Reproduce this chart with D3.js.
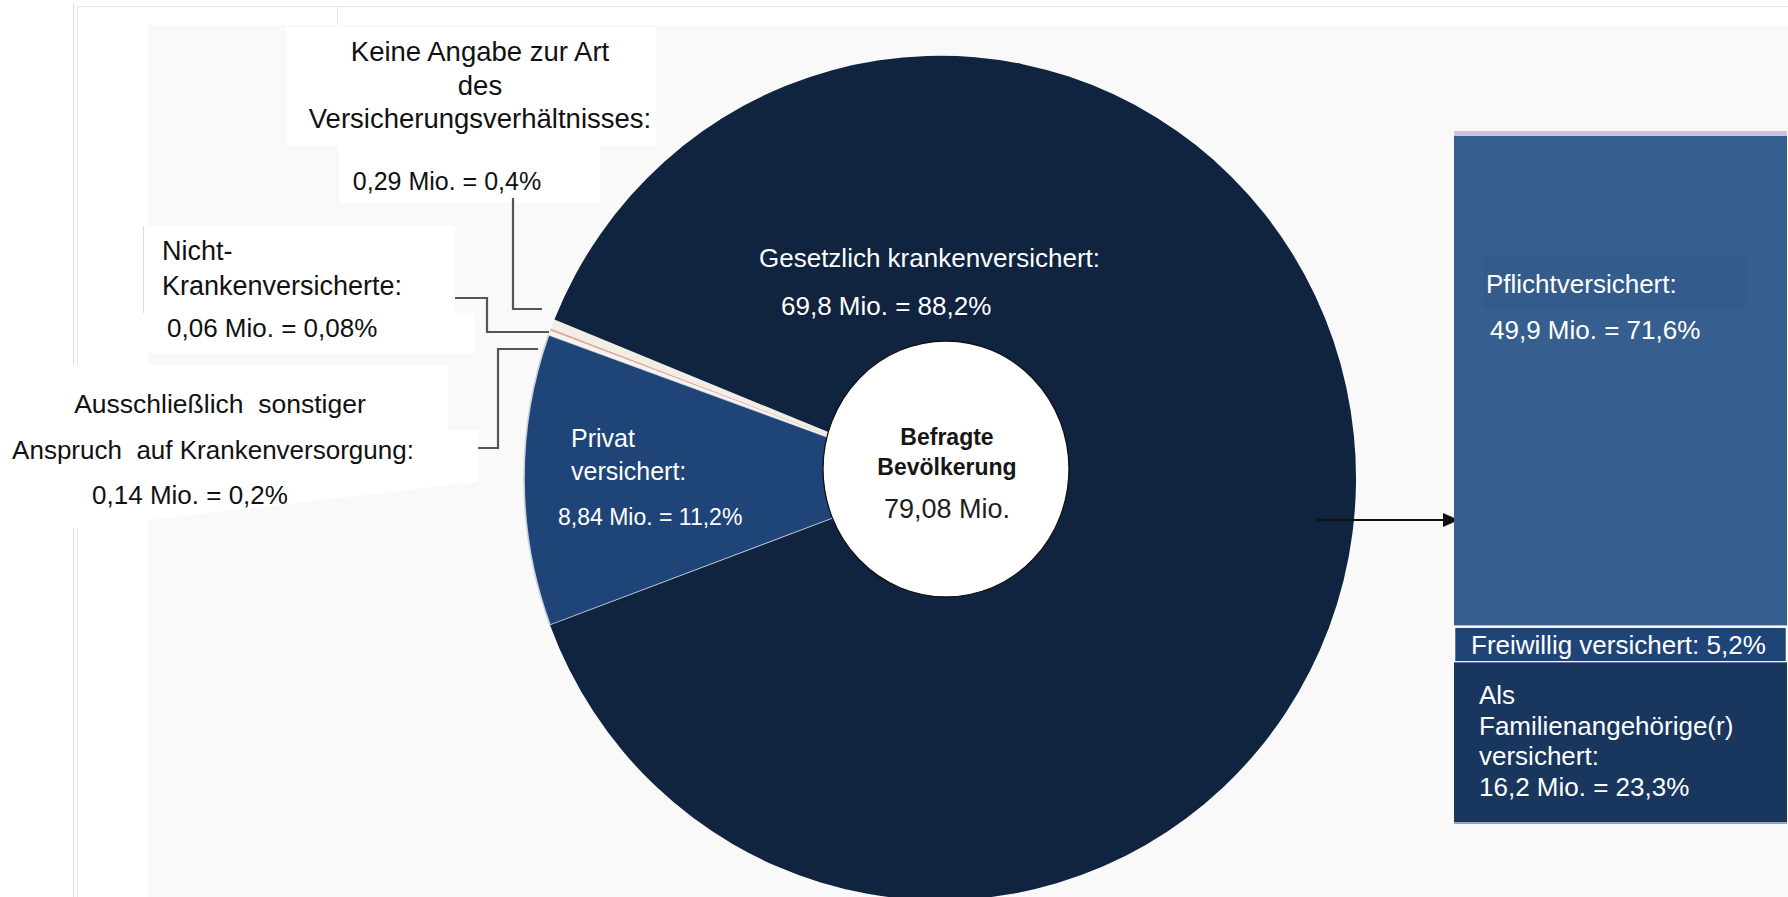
<!DOCTYPE html>
<html>
<head>
<meta charset="utf-8">
<script src="https://cdn.jsdelivr.net/npm/d3@7"></script>
<style>
  html, body { margin: 0; padding: 0; background: #ffffff; }
  svg { display: block; }
  text { font-family: "Liberation Sans", Arial, sans-serif; white-space: pre; }
</style>
</head>
<body>
<svg id="chart" width="1788" height="897"></svg>
<script>
// ---------------- DATA ----------------
const pieCategories = [
  "Privat versichert",
  "Ausschließlich sonstiger Anspruch auf Krankenversorgung",
  "Nicht-Krankenversicherte",
  "Keine Angabe zur Art des Versicherungsverhältnisses",
  "Gesetzlich krankenversichert"
];
const pieValues   = [8.84, 0.14, 0.06, 0.29, 69.8];      // Mio.
const piePercents = [11.2, 0.2, 0.08, 0.4, 88.2];        // %
const totalValue  = 79.08;                               // Mio.

const barCategories = ["Pflichtversichert", "Freiwillig versichert", "Als Familienangehörige(r) versichert"];
const barPercents   = [71.6, 5.2, 23.3];                 // % of Gesetzlich
const barValues     = [49.9, null, 16.2];                // Mio.

// ---------------- HELPERS ----------------
const de = v => String(v).replace(".", ",");
const svg = d3.select("#chart");

// ---------------- BACKGROUND (screenshot frame) ----------------
const bg = svg.append("g");
bg.append("rect").attr("x", 148).attr("y", 25).attr("width", 1640).attr("height", 872).attr("fill", "#f9f9f9");
bg.append("line").attr("x1", 77).attr("x2", 1788).attr("y1", 6.5).attr("y2", 6.5).attr("stroke", "#e6e6e6");
bg.append("line").attr("x1", 73.5).attr("x2", 73.5).attr("y1", 4).attr("y2", 897).attr("stroke", "#d9d9d9");
bg.append("line").attr("x1", 77.5).attr("x2", 77.5).attr("y1", 6).attr("y2", 365).attr("stroke", "#e6e6e6");
bg.append("line").attr("x1", 77.5).attr("x2", 77.5).attr("y1", 528).attr("y2", 897).attr("stroke", "#e6e6e6");
bg.append("line").attr("x1", 337.5).attr("x2", 337.5).attr("y1", 6).attr("y2", 25).attr("stroke", "#e6e6e6");
bg.append("rect").attr("x", 78).attr("y", 528).attr("width", 70).attr("height", 369).attr("fill", "#ffffff");
// white label boxes
const boxes = [
  [286, 27, 370, 118], [339, 145, 261, 58],
  [143, 226, 312, 87], [147, 313, 328, 40]
];
bg.selectAll("rect.box").data(boxes).join("rect").attr("class", "box")
  .attr("x", d => d[0]).attr("y", d => d[1]).attr("width", d => d[2]).attr("height", d => d[3])
  .attr("fill", "#ffffff");
bg.append("line").attr("x1", 143.5).attr("x2", 143.5).attr("y1", 226).attr("y2", 313).attr("stroke", "#dddddd");
bg.append("polygon").attr("points", "0,365 448,365 448,430 478,430 478,482 78,528 0,528").attr("fill", "#ffffff");

// ---------------- PIE ----------------
const cx = 940, cy = 478, rOuter = 416, yStretch = 1.015;
const pieColors = ["#1f4578", "#f6f4ee", "#e6a49e", "#f1eee6", "#10233f"];

const pie = d3.pie().sort(null).value(d => d)
  .startAngle(249.6 * Math.PI / 180)
  .endAngle((249.6 + 360) * Math.PI / 180);
const arcs = pie(pieValues);
const arc = d3.arc().innerRadius(0).outerRadius(rOuter);

const pieG = svg.append("g").attr("transform", `translate(${cx},${cy}) scale(1,${yStretch})`);
pieG.selectAll("path").data(arcs).join("path")
  .attr("d", arc)
  .attr("fill", (d, i) => pieColors[i])
  .attr("stroke", (d, i) => i === 0 ? "#c9d2de" : "none")
  .attr("stroke-width", 1.6);

// inner white disc
svg.append("ellipse").attr("cx", 946).attr("cy", 469).attr("rx", 123).attr("ry", 128)
  .attr("fill", "#ffffff").attr("stroke", "#111111").attr("stroke-width", 1.3);

svg.append("text").attr("x", 947).attr("y", 445).attr("text-anchor", "middle")
  .attr("font-size", 23).attr("font-weight", "bold").attr("fill", "#161616").text("Befragte");
svg.append("text").attr("x", 947).attr("y", 475).attr("text-anchor", "middle")
  .attr("font-size", 23).attr("font-weight", "bold").attr("fill", "#161616").text("Bevölkerung");
svg.append("text").attr("x", 947).attr("y", 518).attr("text-anchor", "middle")
  .attr("font-size", 27).attr("fill", "#1e1e1e").text(de(totalValue) + " Mio.");

// ---------------- PIE LABELS ----------------
function lines(x, y0, dy, arr, opts) {
  arr.forEach((t, i) => {
    svg.append("text").attr("x", x).attr("y", y0 + i * dy)
      .attr("text-anchor", opts.anchor || "start")
      .attr("font-size", opts.size || 26)
      .attr("fill", opts.fill || "#111111")
      .text(t);
  });
}
const mioPct = i => `${de(pieValues[i])} Mio. = ${de(piePercents[i])}%`;

// Gesetzlich
lines(759, 267, 0, ["Gesetzlich krankenversichert:"], { fill: "#ffffff", size: 26 });
lines(781, 315, 0, [mioPct(4)], { fill: "#ffffff", size: 26 });
// Privat
lines(571, 447, 33, ["Privat", "versichert:"], { fill: "#ffffff", size: 25 });
lines(558, 525, 0, [mioPct(0)], { fill: "#ffffff", size: 23 });
// Keine Angabe
lines(480, 61, 33.5, ["Keine Angabe zur Art", "des", "Versicherungsverhältnisses:"], { anchor: "middle", size: 27.5 });
lines(447, 190, 0, [mioPct(3)], { anchor: "middle", size: 25 });
// Nicht-Krankenversicherte
lines(162, 260, 35, ["Nicht-", "Krankenversicherte:"], { size: 27 });
lines(167, 337, 0, [mioPct(2)], { size: 26 });
// Ausschließlich sonstiger
lines(220, 413, 46, ["Ausschließlich  sonstiger"], { anchor: "middle", size: 26.5 });
lines(213, 459, 0, ["Anspruch  auf Krankenversorgung:"], { anchor: "middle", size: 26 });
lines(190, 504, 0, [mioPct(1)], { anchor: "middle", size: 26 });

// leader lines
const leaders = [
  [[513, 198], [513, 309], [542, 309]],
  [[455, 298], [487, 298], [487, 332], [549, 332]],
  [[538, 349], [498, 349], [498, 448], [478, 448]]
];
svg.selectAll("path.leader").data(leaders).join("path").attr("class", "leader")
  .attr("d", d3.line())
  .attr("fill", "none").attr("stroke", "#555555").attr("stroke-width", 2.2);

// ---------------- ARROW ----------------
svg.append("line").attr("x1", 1317).attr("x2", 1446).attr("y1", 520).attr("y2", 520)
  .attr("stroke", "#111111").attr("stroke-width", 2);
svg.append("path").attr("d", "M1443,513 L1459,520 L1443,527 Z").attr("fill", "#111111");

// ---------------- STACKED BAR ----------------
const barX0 = 1454, barX1 = 1787, barTop = 136, barBottom = 822;
const barColors = ["#365f8f", "#1f4578", "#18365e"];
const y = d3.scaleLinear().domain([0, d3.sum(barPercents)]).range([barTop, barBottom]);
let acc = 0;
const segs = barPercents.map((v, i) => { const s = { i, y0: y(acc), y1: y(acc + v) }; acc += v; return s; });

svg.append("rect").attr("x", barX0).attr("y", barTop - 5).attr("width", barX1 - barX0).attr("height", 5).attr("fill", "#cdc4da");
svg.selectAll("rect.seg").data(segs).join("rect").attr("class", "seg")
  .attr("x", barX0).attr("width", barX1 - barX0)
  .attr("y", d => d.y0).attr("height", d => d.y1 - d.y0)
  .attr("fill", d => barColors[d.i])
  .attr("stroke", d => d.i === 1 ? "#ffffff" : "none")
  .attr("stroke-width", 2.5);
svg.append("line").attr("x1", barX0).attr("x2", barX1).attr("y1", barBottom + 1).attr("y2", barBottom + 1)
  .attr("stroke", "#9aa6b8").attr("stroke-width", 2);

// faint text box behind "Pflichtversichert:"
svg.append("rect").attr("x", 1483).attr("y", 257).attr("width", 263).attr("height", 52)
  .attr("fill", "#325a8a").attr("opacity", 0.7);

// bar labels
lines(1486, 293, 0, [barCategories[0] + ":"], { fill: "#ffffff", size: 26 });
lines(1490, 339, 0, [`${de(barValues[0])} Mio. = ${de(barPercents[0])}%`], { fill: "#ffffff", size: 26 });
lines(1471, (segs[1].y0 + segs[1].y1) / 2 + 9, 0, [`${barCategories[1]}: ${de(barPercents[1])}%`], { fill: "#ffffff", size: 26 });
lines(1479, segs[2].y0 + 42, 30.5, ["Als", "Familienangehörige(r)", "versichert:",
  `${de(barValues[2])} Mio. = ${de(barPercents[2])}%`], { fill: "#ffffff", size: 26 });
</script>
</body>
</html>
